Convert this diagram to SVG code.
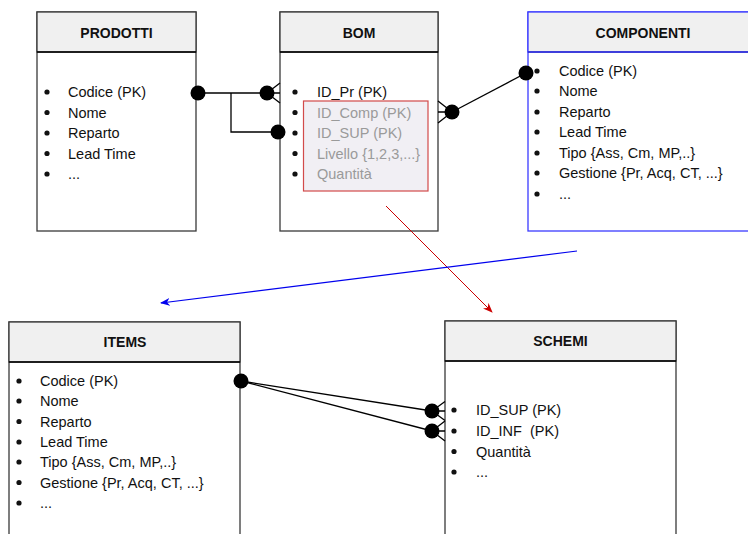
<svg xmlns="http://www.w3.org/2000/svg" width="748" height="534" viewBox="0 0 748 534">
<style>
.box{fill:#fff;stroke:#3a3a3a;stroke-width:1.3}
.hdr{fill:#f0f0f0;stroke:#3a3a3a;stroke-width:1.3}
.sep{stroke:#000;stroke-width:1.6}
.ttl{font-family:"Liberation Sans",Arial,sans-serif;font-size:14px;font-weight:bold;fill:#111;text-anchor:middle}
.it{font-family:"Liberation Sans",Arial,sans-serif;font-size:14.5px;fill:#111}
.gr{fill:#9a9a9a}
.b{fill:#111}
.ln{stroke:#000;stroke-width:1.3;fill:none}
.dot{fill:#000}
</style>
<defs>
<marker id="ab" markerWidth="10" markerHeight="8" refX="9" refY="4" orient="auto" markerUnits="userSpaceOnUse"><path d="M0,0 L10,4 L0,8 L3,4 Z" fill="#0000ee"/></marker>
<marker id="ar" markerWidth="10" markerHeight="8" refX="9" refY="4" orient="auto" markerUnits="userSpaceOnUse"><path d="M0,0 L10,4 L0,8 L3,4 Z" fill="#cc0000"/></marker>
</defs>

<g id="prodotti">
<rect class="box" x="37" y="12" width="159" height="219"/>
<rect class="hdr" x="37" y="12" width="159" height="40"/>
<line class="sep" x1="37" y1="52" x2="196" y2="52"/>
<text class="ttl" x="116.5" y="38">PRODOTTI</text>
<g class="b"><circle cx="47" cy="92" r="2.6"/><circle cx="47" cy="112.5" r="2.6"/><circle cx="47" cy="133" r="2.6"/><circle cx="47" cy="153.5" r="2.6"/><circle cx="47" cy="174" r="2.6"/></g>
<text class="it" x="68" y="97">Codice (PK)</text>
<text class="it" x="68" y="117.5">Nome</text>
<text class="it" x="68" y="138">Reparto</text>
<text class="it" x="68" y="158.5">Lead Time</text>
<text class="it" x="68" y="179">...</text>
</g>

<g id="bom">
<rect class="box" x="280" y="12" width="158" height="219"/>
<rect class="hdr" x="280" y="12" width="158" height="40"/>
<line class="sep" x1="280" y1="52" x2="438" y2="52"/>
<text class="ttl" x="359" y="38">BOM</text>
<rect x="303.5" y="101" width="124.5" height="90" fill="#f1eff4" stroke="#d24a4a" stroke-width="1.2"/>
<g class="b"><circle cx="295" cy="92" r="2.6"/><circle cx="295" cy="112.5" r="2.6"/><circle cx="295" cy="133" r="2.6"/><circle cx="295" cy="153.5" r="2.6"/><circle cx="295" cy="174" r="2.6"/></g>
<text class="it" x="317" y="97">ID_Pr (PK)</text>
<text class="it gr" x="317" y="117.5">ID_Comp (PK)</text>
<text class="it gr" x="317" y="138">ID_SUP (PK)</text>
<text class="it gr" x="317" y="158.5">Livello {1,2,3,...}</text>
<text class="it gr" x="317" y="179">Quantità</text>
</g>

<g id="componenti">
<rect x="528" y="12" width="232" height="219" fill="#fff" stroke="#3b3bff" stroke-width="1.3"/>
<rect x="528" y="12" width="232" height="40" fill="#f0f0f0" stroke="#3b3bff" stroke-width="1.3"/>
<line x1="528" y1="52" x2="760" y2="52" stroke="#2a2ad0" stroke-width="1.6"/>
<text class="ttl" x="643" y="38">COMPONENTI</text>
<g class="b"><circle cx="537" cy="71" r="2.6"/><circle cx="537" cy="91" r="2.6"/><circle cx="537" cy="112" r="2.6"/><circle cx="537" cy="132" r="2.6"/><circle cx="537" cy="153" r="2.6"/><circle cx="537" cy="173" r="2.6"/><circle cx="537" cy="194" r="2.6"/></g>
<text class="it" x="559" y="76">Codice (PK)</text>
<text class="it" x="559" y="96">Nome</text>
<text class="it" x="559" y="117">Reparto</text>
<text class="it" x="559" y="137">Lead Time</text>
<text class="it" x="559" y="158">Tipo {Ass, Cm, MP,..}</text>
<text class="it" x="559" y="178">Gestione {Pr, Acq, CT, ...}</text>
<text class="it" x="559" y="199">...</text>
</g>

<g id="items">
<rect class="box" x="9" y="322" width="231" height="230"/>
<rect class="hdr" x="9" y="322" width="231" height="40"/>
<line class="sep" x1="9" y1="362" x2="240" y2="362"/>
<text class="ttl" x="125" y="347">ITEMS</text>
<g class="b"><circle cx="19" cy="381" r="2.6"/><circle cx="19" cy="401" r="2.6"/><circle cx="19" cy="421.5" r="2.6"/><circle cx="19" cy="442" r="2.6"/><circle cx="19" cy="462" r="2.6"/><circle cx="19" cy="482.5" r="2.6"/><circle cx="19" cy="503" r="2.6"/></g>
<text class="it" x="40" y="386">Codice (PK)</text>
<text class="it" x="40" y="406">Nome</text>
<text class="it" x="40" y="426.5">Reparto</text>
<text class="it" x="40" y="447">Lead Time</text>
<text class="it" x="40" y="467">Tipo {Ass, Cm, MP,..}</text>
<text class="it" x="40" y="487.5">Gestione {Pr, Acq, CT, ...}</text>
<text class="it" x="40" y="508">...</text>
</g>

<g id="schemi">
<rect class="box" x="445" y="321" width="231" height="230"/>
<rect class="hdr" x="445" y="321" width="231" height="40"/>
<line class="sep" x1="445" y1="361" x2="676" y2="361"/>
<text class="ttl" x="560.5" y="346">SCHEMI</text>
<g class="b"><circle cx="454" cy="410" r="2.6"/><circle cx="454" cy="431" r="2.6"/><circle cx="454" cy="451.5" r="2.6"/><circle cx="454" cy="472" r="2.6"/></g>
<text class="it" x="476" y="415">ID_SUP (PK)</text>
<text class="it" x="476" y="436" xml:space="preserve">ID_INF  (PK)</text>
<text class="it" x="476" y="456.5">Quantità</text>
<text class="it" x="476" y="477">...</text>
</g>

<g id="connectors">
<polyline class="ln" points="198,93 267,93"/>
<polyline class="ln" points="231,93 231,132 278,132"/>
<path class="ln" d="M267,93 L280,83 M267,93 L280,93 M267,93 L280,103"/>
<path class="ln" d="M452,112 L438,101 M452,112 L438,112 M452,112 L438,123"/>
<line class="ln" x1="452" y1="112" x2="526" y2="73"/>
<line class="ln" x1="241" y1="381" x2="432" y2="411"/>
<line class="ln" x1="241" y1="381" x2="432" y2="431"/>
<path class="ln" d="M432,411 L445,401.5 M432,411 L445,411 M432,411 L445,420.5 M432,431 L445,421 M432,431 L445,431 M432,431 L445,441"/>
<circle class="dot" cx="198" cy="93" r="7.5"/>
<circle class="dot" cx="267" cy="93" r="7.5"/>
<circle class="dot" cx="278" cy="132" r="7.5"/>
<circle class="dot" cx="452" cy="112" r="7.5"/>
<circle class="dot" cx="526" cy="73" r="7.5"/>
<circle class="dot" cx="241" cy="381" r="7.5"/>
<circle class="dot" cx="432" cy="411" r="7.5"/>
<circle class="dot" cx="432" cy="431" r="7.5"/>
<line x1="386" y1="206" x2="492" y2="312" stroke="#cc0000" stroke-width="1" marker-end="url(#ar)"/>
<line x1="577" y1="251" x2="161" y2="303" stroke="#0000ee" stroke-width="1.2" marker-end="url(#ab)"/>
</g>
</svg>
